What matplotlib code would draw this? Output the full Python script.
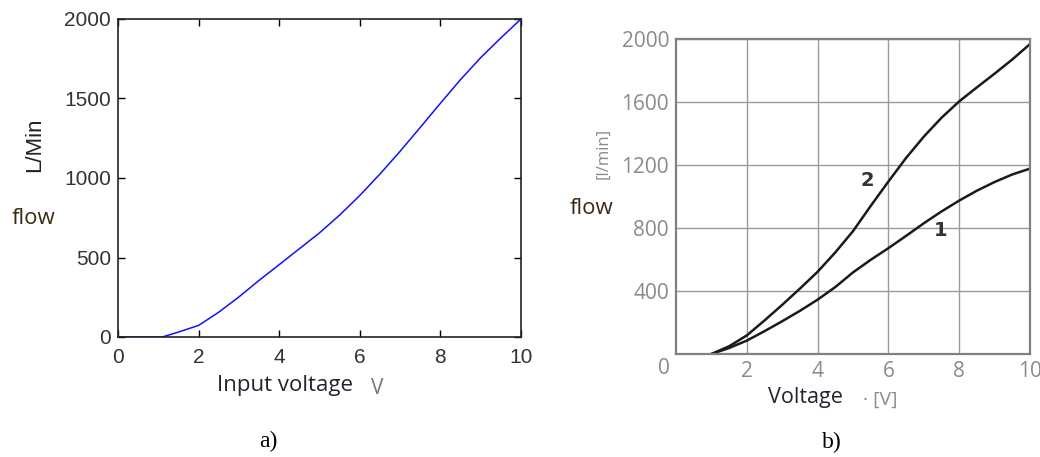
import matplotlib
matplotlib.use("Agg")
import matplotlib.pyplot as plt
from matplotlib.ticker import MultipleLocator

# panel a) - measured flow vs input voltage
volt_a = [0, 1.0, 1.1, 1.5, 2, 2.5, 3, 3.5, 4, 4.5, 5, 5.5, 6, 6.5, 7,
          7.5, 8, 8.5, 9, 9.5, 10]
flow_a = [0, 0, 0, 31, 73, 156, 252, 356, 455, 555, 655, 767, 890, 1025,
          1168, 1318, 1470, 1619, 1757, 1881, 2000]

# panel b) - curves 1 and 2
volt_b = [1, 1.5, 2, 2.5, 3, 3.5, 4, 4.5, 5, 5.5, 6, 6.5, 7, 7.5, 8, 8.5,
          9, 9.5, 10]
flow_1 = [0, 38, 85, 145, 208, 274, 345, 425, 518, 598, 672, 750, 830,
          905, 974, 1037, 1092, 1140, 1177]
flow_2 = [0, 49, 118, 213, 312, 415, 522, 645, 780, 940, 1095, 1245,
          1380, 1500, 1604, 1693, 1780, 1870, 1968]

W, H = 1040, 457


def fx(px):
    return px / W


def fy(py):
    return 1 - py / H


fig = plt.figure(figsize=(10.4, 4.57), dpi=100)

# ---- panel a ----
ax1 = fig.add_axes([118 / W, 1 - 337 / H, (521 - 118) / W, (337 - 19) / H])
ax1.plot(volt_a, flow_a, color="#1010ff", lw=1.1)
ax1.set_xlim(0, 10)
ax1.set_ylim(0, 2000)
ax1.xaxis.set_major_locator(MultipleLocator(2))
ax1.yaxis.set_major_locator(MultipleLocator(500))
ax1.tick_params(axis="both", direction="in", top=True, right=True, length=5,
                width=1, labelsize=15, labelcolor="#333333")
ax1.tick_params(axis="x", pad=8)
ax1.tick_params(axis="y", pad=5)
for lab in ax1.get_xticklabels() + ax1.get_yticklabels():
    lab.set_fontfamily("Liberation Sans")
for s in ax1.spines.values():
    s.set_color("#222222")
    s.set_linewidth(1.2)

fig.text(fx(35), fy(145), "L/Min", rotation=90, ha="center", va="center",
         fontsize=16, color="#222222", family="Liberation Sans")
fig.text(fx(34), fy(219), "flow", ha="center", va="center",
         fontsize=16, color="#3a2a10", family="Open Sans")
fig.text(fx(285), fy(385), "Input voltage", ha="center", va="center",
         fontsize=16, color="#2a2030", family="Open Sans")
fig.text(fx(377), fy(389), "V", ha="center", va="center",
         fontsize=15, color="#777777", family="Open Sans")
fig.text(fx(268), fy(441), "a)", ha="center", va="center",
         fontsize=17, color="black", family="Liberation Serif")

# ---- panel b ----
ax2 = fig.add_axes([676 / W, 1 - 354 / H, (1030 - 676) / W, (354 - 39) / H])
ax2.plot(volt_b, flow_1, color="#1a1a1a", lw=1.8)
ax2.plot(volt_b, flow_2, color="#1a1a1a", lw=1.8)
ax2.set_xlim(0, 10)
ax2.set_ylim(0, 2000)
ax2.set_xticks([2, 4, 6, 8, 10])
ax2.set_yticks([400, 800, 1200, 1600, 2000])
ax2.grid(True, color="#9a9a9a", lw=1.0)
ax2.tick_params(length=0, labelsize=15, labelcolor="#8a8a8a")
ax2.tick_params(axis="x", pad=5)
ax2.tick_params(axis="y", pad=5)
for lab in ax2.get_xticklabels() + ax2.get_yticklabels():
    lab.set_fontfamily("Open Sans")
for s in ax2.spines.values():
    s.set_color("#808080")
    s.set_linewidth(1.6)

fig.text(fx(664), fy(368), "0", ha="center", va="center",
         fontsize=15, color="#8a8a8a", family="Open Sans")
ax2.text(5.4, 1099, "2", fontsize=14, fontweight="bold", color="#333333",
         ha="center", va="center")
ax2.text(7.47, 781, "1", fontsize=14, fontweight="bold", color="#333333",
         ha="center", va="center")
fig.text(fx(603), fy(153), "[l/min]", rotation=90, ha="center", va="center",
         fontsize=12, color="#8a8a8a", family="Open Sans")
fig.text(fx(592), fy(208), "flow", ha="center", va="center",
         fontsize=16, color="#3a2a10", family="Open Sans")
fig.text(fx(805), fy(398), "Voltage", ha="center", va="center",
         fontsize=15.5, color="#2a2030", family="Open Sans")
fig.text(fx(880), fy(400), "\u00b7 [V]", ha="center", va="center",
         fontsize=14, color="#8a8a8a", family="Open Sans")
fig.text(fx(832), fy(442), "b)", ha="center", va="center",
         fontsize=17, color="black", family="Liberation Serif")

fig.savefig("out.png", dpi=100)
